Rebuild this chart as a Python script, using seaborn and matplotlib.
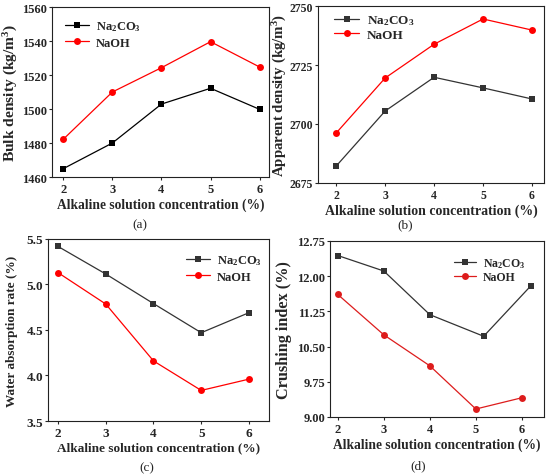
import numpy as np
import pandas as pd
import matplotlib
matplotlib.use("Agg")
import matplotlib.pyplot as plt
import seaborn as sns

sns.set_theme(style="ticks")
plt.rcParams['font.family'] = ['Liberation Serif', 'DejaVu Serif']
plt.rcParams['font.weight'] = 'bold'
plt.rcParams['axes.labelweight'] = 'bold'
plt.rcParams['mathtext.fontset'] = 'custom'
plt.rcParams['mathtext.rm'] = 'Liberation Serif:bold'
plt.rcParams['mathtext.it'] = 'Liberation Serif:bold'
plt.rcParams['mathtext.bf'] = 'Liberation Serif:bold'

# ---- data ----
conc = [2, 3, 4, 5, 6]
series_names = ['Na$_2$CO$_3$', 'NaOH']

bulk_na2co3 = [1464.9, 1480.0, 1502.9, 1512.2, 1499.8]
bulk_naoh = [1482.2, 1510.0, 1524.3, 1539.6, 1524.7]

app_na2co3 = [2682.2, 2705.5, 2719.8, 2715.3, 2710.6]
app_naoh = [2696.2, 2719.5, 2733.8, 2744.5, 2739.8]

water_na2co3 = [5.418, 5.115, 4.79, 4.47, 4.69]
water_naoh = [5.13, 4.785, 4.16, 3.836, 3.96]

crush_x_na2co3 = [2, 3, 4, 5.17, 6.2]
crush_na2co3 = [12.44, 12.11, 11.18, 10.72, 11.80]
crush_naoh = [11.61, 10.75, 10.09, 9.17, 9.41]

panels = [
    dict(pos=[0.0945, 0.6268, 0.3945, 0.3564], y1=bulk_na2co3, y2=bulk_naoh,
         x1=conc, ylabel='Bulk density (kg/m$^3$)', ylim=(1460, 1560),
         yticks=[1460, 1480, 1500, 1520, 1540, 1560], yfmt='{:.0f}',
         xlim=(1.77, 6.19), leg='upper left', legxy=(0.037, 0.959),
         ylx=-0.148, yllen=138, xllen=207, tick_fs=9.0, leg_fs=9.0,
         tag='(a)', tagxy=(140, 225),
         c2='#ff0000', c1='#000000', ls=0.3),
    dict(pos=[0.578, 0.6143, 0.411, 0.371], y1=app_na2co3, y2=app_naoh,
         x1=conc, ylabel='Apparent density (kg/m$^3$)', ylim=(2675, 2750),
         yticks=[2675, 2700, 2725, 2750], yfmt='{:.0f}',
         xlim=(1.625, 6.245), leg='upper left', legxy=(0.049, 0.989),
         ylx=-0.126, yllen=163, xllen=212, tick_fs=8.5, leg_fs=9.5,
         tag='(b)', tagxy=(405, 225),
         c2='#ff0000', c1='#333333', ls=0.12),
    dict(pos=[0.0873, 0.1153, 0.4018, 0.3816], y1=water_na2co3, y2=water_naoh,
         x1=conc, ylabel='Water absorption rate (%)', ylim=(3.5, 5.5),
         yticks=[3.5, 4.0, 4.5, 5.0, 5.5], yfmt='{:.1f}',
         xlim=(1.79, 6.42), leg='upper right', legxy=(0.991, 0.95),
         ylx=-0.136, yllen=152, xllen=203, tick_fs=9.5, leg_fs=9.0,
         tag='(c)', tagxy=(147, 468),
         c2='#ff0000', c1='#333333', ls=0.3),
    dict(pos=[0.600, 0.1237, 0.389, 0.369], y1=crush_na2co3, y2=crush_naoh,
         x1=crush_x_na2co3, ylabel='Crushing index (%)', ylim=(9.0, 12.75),
         yticks=[9.0, 9.75, 10.5, 11.25, 12.0, 12.75], yfmt='{:.2f}',
         xlim=(1.83, 6.48), leg='upper right', legxy=(0.935, 0.943),
         ylx=-0.178, yllen=138, xllen=207, tick_fs=9.0, leg_fs=8.5,
         tag='(d)', tagxy=(418, 466),
         c2='#dd1c1c', c1='#333333', ls=0.12),
]

fig = plt.figure(figsize=(5.5, 4.77), dpi=100)
W, H = 550, 477
renderer = fig.canvas.get_renderer()


def fit_text(t, target, vertical=False):
    bb = t.get_window_extent(renderer)
    cur = bb.height if vertical else bb.width
    if cur > 0:
        t.set_fontsize(t.get_fontsize() * target / cur)


for p in panels:
    ax = fig.add_axes(p['pos'])
    df = pd.DataFrame({
        'x': list(p['x1']) + list(conc),
        'y': list(p['y1']) + list(p['y2']),
        's': [series_names[0]] * len(p['x1']) + [series_names[1]] * len(conc),
    })
    sns.lineplot(data=df, x='x', y='y', hue='s', style='s',
                 palette={series_names[0]: p['c1'], series_names[1]: p['c2']},
                 markers={series_names[0]: 's', series_names[1]: 'o'},
                 dashes=False, linewidth=0.9, markersize=5,
                 markeredgewidth=0, ax=ax, sort=False)
    ax.set_xlim(*p['xlim'])
    ax.set_ylim(*p['ylim'])
    ax.set_xticks(conc)
    ax.set_xticklabels([str(c) for c in conc])
    ax.set_yticks(p['yticks'])
    ax.set_yticklabels([p['yfmt'].format(v) for v in p['yticks']])
    ax.set_xlabel('Alkaline solution concentration (%)', fontsize=10,
                  fontweight='bold', labelpad=2)
    ax.set_ylabel(p['ylabel'], fontsize=10, fontweight='bold')
    ax.yaxis.set_label_coords(p['ylx'], 0.5)
    ax.tick_params(axis='both', labelsize=p['tick_fs'], length=2, width=0.8,
                   direction='out', pad=2)
    ax.tick_params(axis='y', pad=1.5)
    for lab in ax.get_xticklabels() + ax.get_yticklabels():
        lab.set_fontweight('bold')
    for sp in ax.spines.values():
        sp.set_visible(True)
        sp.set_linewidth(0.8)
        sp.set_color('#222222')
    fit_text(ax.xaxis.label, p['xllen'])
    fit_text(ax.yaxis.label, p['yllen'], vertical=True)
    leg = ax.legend(loc=p['leg'], bbox_to_anchor=p['legxy'], borderaxespad=0,
                    frameon=False, fontsize=p['leg_fs'], title=None,
                    handlelength=1.9, handletextpad=0.55,
                    labelspacing=p['ls'], markerscale=1.0)
    for t in leg.get_texts():
        t.set_fontweight('bold')
    fig.text(p['tagxy'][0] / W, 1 - p['tagxy'][1] / H, p['tag'],
             ha='center', va='center', fontsize=9.5, fontweight='normal')

fig.savefig('out.png', dpi=100)
